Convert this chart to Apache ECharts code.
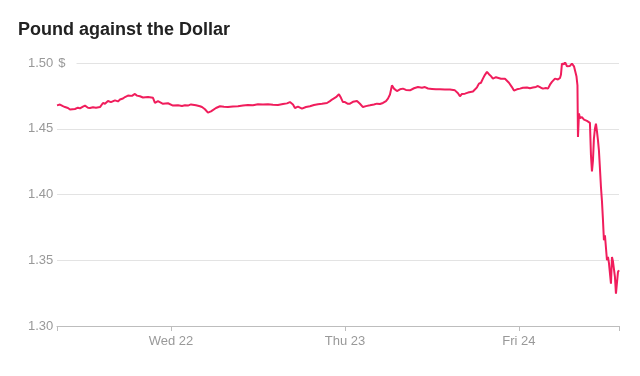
<!DOCTYPE html>
<html>
<head>
<meta charset="utf-8">
<title>Pound against the Dollar</title>
<script src="https://cdn.jsdelivr.net/npm/echarts@6/dist/echarts.min.js"></script>
<style>
  html, body { margin: 0; padding: 0; background: #fff; }
  #chart { width: 640px; height: 376px; }
</style>
</head>
<body>
<div id="chart"></div>
<script>
// hours since Tue 21 00:00
const hours = [
  8.28, 8.69, 9.1, 9.38, 9.79, 10.07, 10.34, 10.76, 11.17, 11.45, 11.86, 12.14, 12.55, 12.83, 13.24, 13.66,
  14.21, 14.62, 14.9, 15.31, 15.72, 16.28, 16.69, 16.97, 17.38, 17.66, 18.07, 18.34, 18.62, 19.03, 19.31,
  19.72, 20.14, 20.41, 20.83, 21.1, 21.52, 21.79, 22.21, 22.48, 22.9, 23.17, 23.59, 23.86, 24.28, 24.55,
  24.97, 25.52, 25.93, 26.34, 26.76, 27.03, 27.45, 28.0,
  28.28, 28.69, 29.1, 29.52, 29.79, 30.21, 30.76, 31.31, 31.86, 32.55, 33.24, 33.93, 34.62, 35.31, 36.0,
  36.69, 37.38, 38.07, 38.76, 39.45, 40.0, 40.41, 40.83, 41.1, 41.52, 42.07, 42.62, 43.17, 43.72, 44.28,
  44.83, 45.52, 45.93, 46.21, 46.48, 46.76, 47.17, 47.45, 47.72,
  48.0, 48.41, 48.69, 49.1, 49.66, 50.07, 50.48, 50.9, 51.45, 52.0, 52.41, 52.83, 53.24, 53.66, 53.93,
  54.21, 54.48, 54.76, 55.17, 55.59, 56.0, 56.41, 56.97, 57.52, 58.07, 58.62, 59.03, 59.45, 60.0, 60.55,
  61.1, 61.79, 62.48, 63.17, 63.59, 63.86, 64.14, 64.55, 64.97, 65.24, 65.66, 65.93, 66.21, 66.48, 66.76,
  67.03, 67.31, 67.59, 67.86,
  68.14, 68.41, 68.83, 69.1, 69.52, 69.79, 70.07, 70.34, 70.62, 71.03, 71.31, 71.45, 71.72, 72.14, 72.55,
  73.1, 73.52, 73.93, 74.34, 74.62, 75.03, 75.31, 75.72, 76.0, 76.28, 76.55, 76.97, 77.38, 77.66, 77.79,
  77.93, 78.21, 78.34, 78.62, 78.76, 79.03, 79.31, 79.59, 79.72, 79.93, 80.07, 80.14, 80.28, 80.41, 80.69,
  80.97, 81.1, 81.38, 81.52, 81.79, 81.93, 82.07, 82.21, 82.34, 82.48, 82.62, 82.76, 82.9, 83.03, 83.17,
  83.31, 83.45, 83.59, 83.72, 83.86, 84.0, 84.14, 84.28, 84.41, 84.55, 84.69, 84.83, 84.97, 85.1, 85.24,
  85.38, 85.52, 85.66, 85.79
];

const rate = [
  1.4678, 1.4684, 1.4672, 1.4665, 1.4658, 1.4646, 1.4655, 1.4650, 1.4660, 1.4655, 1.4668, 1.4676, 1.4660, 1.4658, 1.4664, 1.4660,
  1.4665, 1.4696, 1.4690, 1.4711, 1.4702, 1.4716, 1.4708, 1.4722, 1.4730, 1.4741, 1.4752, 1.4762, 1.4750, 1.4765, 1.4752,
  1.4747, 1.4738, 1.4737, 1.4742, 1.4729, 1.4735, 1.4696, 1.4710, 1.4703, 1.4690, 1.4686, 1.4694, 1.4684, 1.4676, 1.4671,
  1.4678, 1.4673, 1.4678, 1.4676, 1.4685, 1.4691, 1.4678, 1.4671,
  1.4665, 1.4648, 1.4623, 1.4632, 1.4640, 1.4658, 1.4671, 1.4667, 1.4665, 1.4670, 1.4671, 1.4676, 1.4681, 1.4678, 1.4686,
  1.4684, 1.4686, 1.4683, 1.4681, 1.4688, 1.4693, 1.4703, 1.4685, 1.4658, 1.4668, 1.4653, 1.4665, 1.4671, 1.4680, 1.4686,
  1.4690, 1.4696, 1.4710, 1.4722, 1.4712, 1.4740, 1.4762, 1.4735, 1.4703,
  1.4703, 1.4690, 1.4691, 1.4705, 1.4711, 1.4690, 1.4665, 1.4672, 1.4678, 1.4685, 1.4691, 1.4688, 1.4696, 1.4710, 1.4729,
  1.4760, 1.4830, 1.4805, 1.4787, 1.4800, 1.4805, 1.4795, 1.4792, 1.4808, 1.4817, 1.4812, 1.4817, 1.4806, 1.4803, 1.4800,
  1.4800, 1.4799, 1.4798, 1.4792, 1.4770, 1.4747, 1.4765, 1.4767, 1.4775, 1.4772, 1.4783, 1.4787, 1.4815, 1.4843, 1.4850,
  1.4881, 1.4910, 1.4932, 1.4915,
  1.4900, 1.4881, 1.4892, 1.4886, 1.4880, 1.4876, 1.4880, 1.4868, 1.4850, 1.4817, 1.4790, 1.4775, 1.4800, 1.4805, 1.4812,
  1.4813, 1.4808, 1.4813, 1.4818, 1.4825, 1.4812, 1.4805, 1.4810, 1.4805, 1.4835, 1.4856, 1.4881, 1.4875, 1.4886, 1.4910,
  1.4995, 1.4990, 1.5008, 1.4975, 1.4983, 1.4978, 1.4995, 1.4975, 1.4970, 1.4900, 1.4830, 1.4437, 1.4617, 1.4580, 1.4589,
  1.4570, 1.4577, 1.4560, 1.4551, 1.4545, 1.4300, 1.4175, 1.4260, 1.4425, 1.4500, 1.4539, 1.4480, 1.4412, 1.4336, 1.4200,
  1.4057, 1.3950, 1.3804, 1.3652, 1.3690, 1.3677, 1.3500, 1.3525, 1.3480, 1.3487, 1.3322, 1.3525, 1.3490, 1.3475, 1.3373,
  1.3246, 1.3330, 1.3411, 1.3424
];

const dayTicks = [24, 48, 72];
const dayLabels = { 24: 'Wed 22', 48: 'Thu 23', 72: 'Fri 24' };
const xMin = 8.28;
const xMax = 85.8;

const chart = echarts.init(document.getElementById('chart'));

const option = {
  backgroundColor: '#fff',
  animation: false,
  title: {
    text: 'Pound against the Dollar',
    left: 13,
    top: 16,
    textStyle: {
      fontFamily: 'Liberation Sans, Arial, sans-serif',
      fontSize: 18,
      fontWeight: 'bold',
      color: '#222'
    }
  },
  grid: { left: 57, right: 21, top: 63, bottom: 50 },
  xAxis: {
    type: 'value',
    min: xMin,
    max: xMax,
    splitLine: { show: false },
    axisLine: { show: true, lineStyle: { color: '#bdbdbd', width: 1 } },
    axisTick: {
      show: true,
      customValues: [xMin].concat(dayTicks, [xMax]),
      length: 5,
      lineStyle: { color: '#bdbdbd' }
    },
    axisLabel: {
      customValues: dayTicks,
      formatter: v => dayLabels[Math.round(v)] || '',
      color: '#999',
      fontSize: 13,
      margin: 9,
      fontFamily: 'Liberation Sans, Arial, sans-serif'
    }
  },
  yAxis: {
    type: 'value',
    min: 1.30,
    max: 1.50,
    interval: 0.05,
    axisLine: { show: false },
    axisTick: { show: false },
    splitLine: { lineStyle: { color: '#e3e3e3', width: 1 } },
    axisLabel: {
      align: 'left',
      margin: 29,
      color: '#999',
      fontSize: 13,
      fontFamily: 'Liberation Sans, Arial, sans-serif',
      formatter: v => (Math.abs(v - 1.5) < 1e-6 ? '{n|1.50}{d|$}' : v.toFixed(2)),
      rich: {
        n: { color: '#999', fontSize: 13, fontFamily: 'Liberation Sans, Arial, sans-serif' },
        d: {
          color: '#999', fontSize: 13, fontFamily: 'Liberation Sans, Arial, sans-serif',
          backgroundColor: '#fff', padding: [2, 11, 2, 5]
        }
      }
    }
  },
  series: [{
    type: 'line',
    data: hours.map((h, i) => [h, rate[i]]),
    showSymbol: false,
    lineStyle: { color: '#f01d5c', width: 2 },
    itemStyle: { color: '#f01d5c' }
  }]
};

option && chart.setOption(option, true);
</script>
</body>
</html>
